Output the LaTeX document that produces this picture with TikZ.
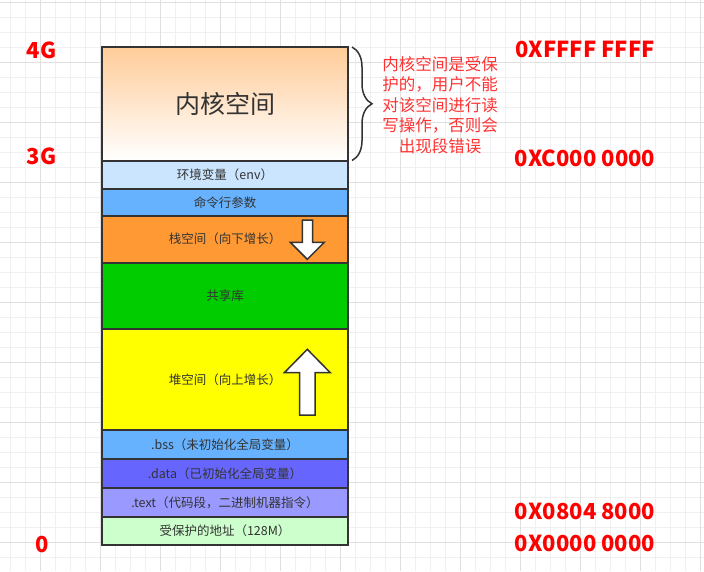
\documentclass[tikz,border=0pt]{standalone}
\usepackage{fontspec}
\setmainfont{Noto Sans CJK SC}
\usepackage{tikz}
\usetikzlibrary{positioning, decorations.pathreplacing}
\definecolor{segline}{HTML}{333333}
\definecolor{segtext}{HTML}{333333}
\definecolor{kerntop}{HTML}{FFCC99}
\definecolor{envblue}{HTML}{CCE5FF}
\definecolor{argblue}{HTML}{66B2FF}
\definecolor{stackorange}{HTML}{FF9933}
\definecolor{libgreen}{HTML}{00CC00}
\definecolor{heapyellow}{HTML}{FFFF00}
\definecolor{bssblue}{HTML}{66B2FF}
\definecolor{datablue}{HTML}{6666FF}
\definecolor{textblue}{HTML}{9999FF}
\definecolor{protgreen}{HTML}{CCFFCC}
\definecolor{addrred}{HTML}{FF0000}
\definecolor{notered}{HTML}{FF3333}
\definecolor{gridlight}{HTML}{F0F0F0}
\definecolor{griddark}{HTML}{E0E0E0}

\begin{document}
\begin{tikzpicture}[
      x=1pt, y=-1pt,
      every node/.append style={font=\fontsize{12.5}{15}\selectfont},
      seg/.style={rectangle, draw=segline, line width=2pt, minimum width=246pt,
                  outer sep=0pt, inner sep=0pt, text=segtext},
      addr/.style={text=addrred, font=\bfseries\fontsize{22}{26}\selectfont},
      note/.style={text=notered, align=center, font=\fontsize{16.5}{20.5}\selectfont},
      growarrow/.style={draw=segline, line width=1.5pt, fill=white, line join=miter},
      kbrace/.style={draw=segline, line width=1.5pt,
                     decorate, decoration={brace, amplitude=20pt}},
      gridminor/.style={draw=gridlight, line width=1pt},
      gridmajor/.style={draw=griddark, line width=1pt},
    ]
      \useasboundingbox (0,0) rectangle (704,571);
      \fill[white] (0,0) rectangle (704,571);
      % background grid
      \foreach \gx in {10.7,25.7,...,704} \draw[gridminor] (\gx,0) -- (\gx,571);
      \foreach \gy in {2.3,17.3,...,571} \draw[gridminor] (0,\gy) -- (704,\gy);
      \foreach \gx in {40.7,100.7,...,704} \draw[gridmajor] (\gx,0) -- (\gx,571);
      \foreach \gy in {2.3,62.3,...,571} \draw[gridmajor] (0,\gy) -- (704,\gy);

      % memory segments, top to bottom
      \node[seg, minimum height=113.5pt, top color=kerntop, bottom color=white,
            font=\fontsize{25}{30}\selectfont] (kern) at (225,103.75) {\raisebox{-3pt}{内核空间}};
      \node[seg, minimum height=28.5pt, fill=envblue, below=0pt of kern] (env) {环境变量（env）};
      \node[seg, minimum height=26.7pt, fill=argblue, below=0pt of env] (args) {命令行参数};
      \node[seg, minimum height=47pt, fill=stackorange, below=0pt of args] (stack) {栈空间（向下增长）};
      \node[seg, minimum height=66pt, fill=libgreen, below=0pt of stack] (shlib) {共享库};
      \node[seg, minimum height=101.3pt, fill=heapyellow, below=0pt of shlib] (heap) {堆空间（向上增长）};
      \node[seg, minimum height=29pt, fill=bssblue, below=0pt of heap] (bss) {.bss（未初始化全局变量）};
      \node[seg, minimum height=29pt, fill=datablue, below=0pt of bss] (data) {.data（已初始化全局变量）};
      \node[seg, minimum height=29pt, fill=textblue, below=0pt of data] (text) {.text（代码段，二进制机器指令）};
      \node[seg, minimum height=28pt, fill=protgreen, below=0pt of text] (prot) {受保护的地址（128M）};

      % growth arrows
      \draw[growarrow] (302.3,220) -- (312.7,220) -- (312.7,242.3) -- (324.3,242.3)
                       -- (307.3,259.3) -- (290.3,242.3) -- (302.3,242.3) -- cycle;
      \draw[growarrow] (307.3,349.3) -- (330.3,372.7) -- (315,372.7) -- (315,415)
                       -- (299.7,415) -- (299.7,372.7) -- (284.3,372.7) -- cycle;

      % kernel note
      \draw[kbrace] ([xshift=4pt]kern.north east) -- ([xshift=4pt]kern.south east);
      \node[note] (knote) at (440,105) {内核空间是受保\\护的，用户不能\\对该空间进行读\\写操作，否则会\\出现段错误};

      % sizes and addresses
      \node[addr] (g4) at (41.7,50) {4G};
      \node[addr] (g3) at (41.7,156) {3G};
      \node[addr] (g0) at (41.7,545) {0};
      \node[addr] (hfff) at (585,49) {0XFFFF FFFF};
      \node[addr] (hc00) at (585,158) {0XC000 0000};
      \node[addr] (h804) at (585,511) {0X0804 8000};
      \node[addr] (h000) at (585,543) {0X0000 0000};
    \end{tikzpicture}
\end{document}
